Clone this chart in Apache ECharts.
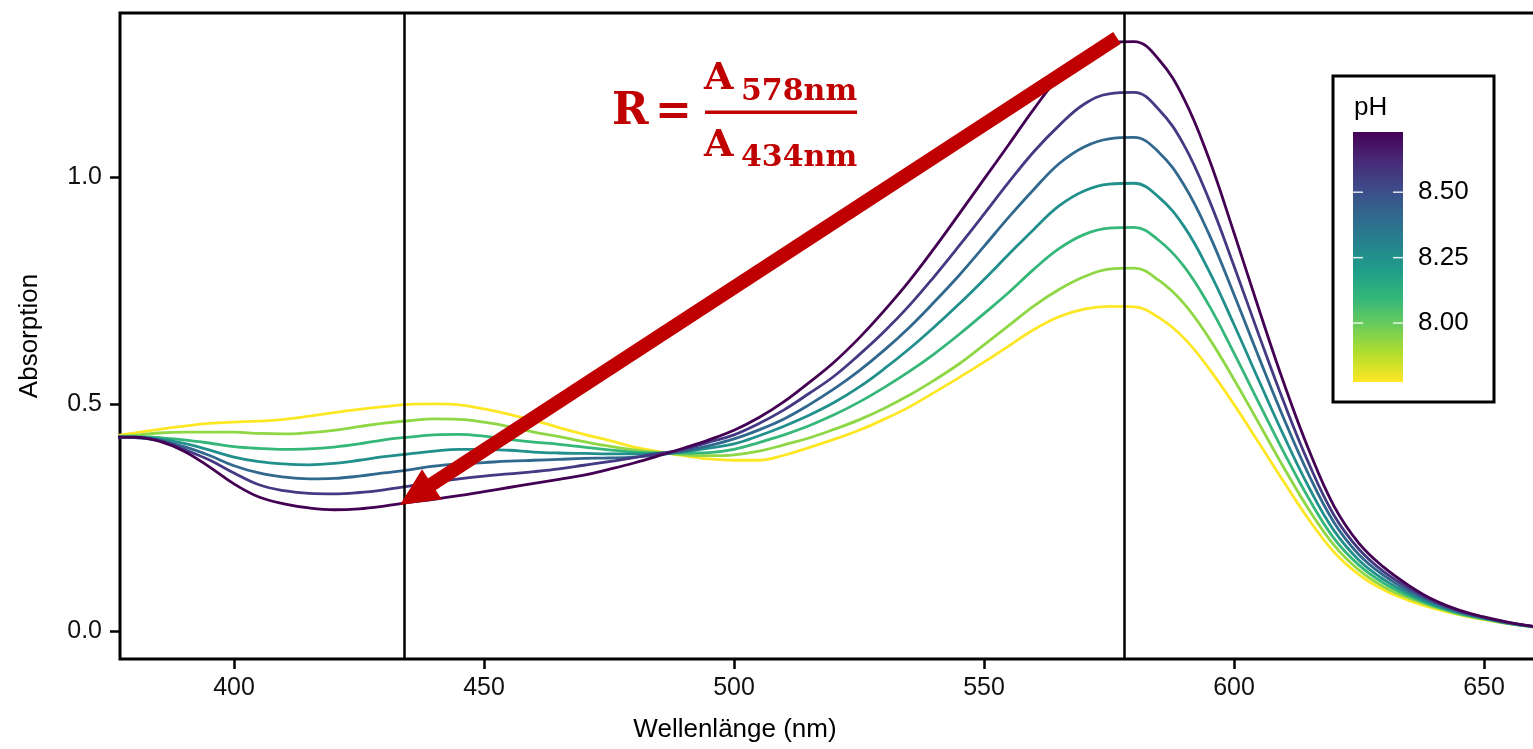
<!DOCTYPE html>
<html>
<head>
<meta charset="utf-8">
<script src="https://cdn.jsdelivr.net/npm/echarts@6/dist/echarts.min.js"></script>
<style>
html,body{margin:0;padding:0;background:#fff;}
#chart{width:1533px;height:749px;}
</style>
</head>
<body>
<div id="chart"></div>
<script>
// ---- data ----
const wavelengths = [375,380,385,390,395,400,405,410,415,420,
  425,430,435,440,445,450,455,460,465,470,
  475,480,485,490,495,500,505,510,515,520,
  525,530,535,540,545,550,555,560,565,570,
  575,580,585,590,595,600,605,610,615,
  620,625,630,635,640,645,650,655,660,665];

const pHValues = [8.73, 8.57, 8.41, 8.25, 8.09, 7.93, 7.77];

const absPH873 = [.427,.427,.418,.396,.362,.324,.295,.280,.271,.267,
  .269,.275,.283,.290,.298,.307,.316,.325,.334,.343,
  .356,.370,.386,.403,.421,.442,.470,.505,.547,.592,
  .645,.705,.770,.842,.918,.995,1.072,1.150,1.220,1.268,
  1.295,1.298,1.258,1.172,1.040,.877,.708,.545,.398,
  .275,.193,.140,.100,.068,.046,.031,.019,.010,.005];

const absPH857 = [.427,.426,.420,.400,.377,.348,.322,.309,.303,.302,
  .305,.311,.319,.328,.335,.341,.346,.351,.357,.365,
  .373,.382,.391,.400,.416,.432,.457,.487,.523,.561,
  .608,.659,.716,.780,.848,.918,.989,1.056,1.113,1.160,
  1.183,1.186,1.148,1.070,.950,.804,.651,.503,.368,
  .255,.180,.130,.094,.065,.044,.030,.018,.010,.005];

const absPH841 = [.427,.426,.420,.406,.387,.364,.348,.339,.335,.336,
  .341,.348,.355,.363,.368,.371,.374,.376,.378,.380,
  .381,.383,.388,.396,.408,.423,.443,.467,.498,.533,
  .573,.618,.668,.724,.783,.847,.912,.973,1.029,1.066,
  1.084,1.087,1.054,.982,.874,.741,.602,.467,.343,
  .239,.168,.122,.088,.062,.042,.029,.018,.010,.005];

const absPH825 = [.427,.427,.423,.413,.399,.383,.373,.368,.366,.369,
  .376,.384,.390,.396,.400,.400,.398,.394,.392,.391,
  .390,.390,.391,.395,.403,.412,.430,.451,.475,.503,
  .537,.577,.621,.669,.720,.774,.830,.885,.936,.969,
  .984,.986,.955,.891,.793,.675,.551,.429,.316,
  .221,.156,.113,.082,.058,.041,.028,.017,.010,.005];

const absPH809 = [.427,.428,.426,.421,.414,.406,.402,.400,.401,.405,
  .412,.421,.427,.432,.433,.429,.422,.416,.411,.405,
  .399,.394,.392,.392,.393,.400,.415,.432,.452,.476,
  .504,.536,.571,.610,.653,.699,.746,.797,.842,.873,
  .887,.889,.860,.803,.717,.612,.502,.393,.291,
  .204,.145,.105,.077,.055,.039,.027,.017,.009,.005];

const absPH793 = [.428,.431,.436,.438,.438,.438,.435,.434,.437,.442,
  .450,.458,.463,.467,.466,.460,.450,.438,.428,.417,
  .407,.399,.393,.388,.386,.388,.396,.410,.425,.444,
  .465,.490,.519,.552,.588,.630,.673,.716,.752,.780,
  .797,.799,.772,.721,.645,.554,.457,.359,.267,
  .189,.134,.097,.072,.053,.037,.026,.016,.009,.005];

const absPH777 = [.428,.436,.444,.451,.457,.460,.462,.466,.473,.481,
  .488,.494,.499,.500,.498,.489,.477,.464,.448,.433,
  .420,.405,.395,.386,.379,.376,.376,.387,.404,.422,
  .442,.466,.493,.525,.558,.592,.628,.664,.692,.709,
  .715,.714,.690,.645,.578,.499,.414,.328,.245,
  .174,.124,.090,.067,.050,.036,.025,.016,.009,.005];

const xTicks = [400, 450, 500, 550, 600, 650];
const yTicks = [0.0, 0.5, 1.0];
const markedWavelengths = [434, 578];
const legendTicks = [8.50, 8.25, 8.00];
const legendRange = [7.775, 8.73];
const arrowFrom = [576.6, 1.306];
const arrowTo = [433.2, 0.2775];

// ---- styling ----
const lineColors = ['#440154','#443A83','#31688E','#21908C','#35B779','#8FD744','#FDE725'];
const viridisStops = ['#440154','#482878','#3E4A89','#31688E','#26828E','#1F9E89','#35B779','#6DCD59','#B4DE2C','#FDE725'];
const curves = [absPH873, absPH857, absPH841, absPH825, absPH809, absPH793, absPH777];
const red = '#C00000';
const textFont = '"Liberation Sans", Arial, sans-serif';
const mathFont = '"DejaVu Serif", serif';

const chart = echarts.init(document.getElementById('chart'), null, {renderer: 'canvas'});

const series = [];
// draw yellow first, purple last
for (let i = curves.length - 1; i >= 0; i--) {
  series.push({
    name: 'pH ' + pHValues[i].toFixed(2),
    type: 'line',
    data: wavelengths.map((w, k) => [w, curves[i][k]]),
    showSymbol: false,
    smooth: 0.4,
    clip: true,
    silent: true,
    lineStyle: {color: lineColors[i], width: 2.8},
    itemStyle: {color: lineColors[i]},
    z: 2
  });
}
series.push({
  type: 'line', data: [], z: 5, silent: true,
  markLine: {
    silent: true, symbol: 'none', animation: false,
    label: {show: false},
    lineStyle: {color: '#000', width: 2.5, type: 'solid'},
    emphasis: {disabled: true},
    data: markedWavelengths.map(w => ({xAxis: w}))
  }
});
// red arrow annotation, placed through the axes' scales
series.push({
  type: 'custom', z: 6, silent: true, clip: false,
  data: [[arrowFrom[0], arrowFrom[1], arrowTo[0], arrowTo[1]]],
  renderItem: function (params, api) {
    const p0 = api.coord([api.value(0), api.value(1)]);
    const p1 = api.coord([api.value(2), api.value(3)]);
    const dx = p1[0] - p0[0], dy = p1[1] - p0[1];
    const len = Math.sqrt(dx * dx + dy * dy);
    const ux = dx / len, uy = dy / len, nx = -uy, ny = ux;
    const headLen = 38, headHalf = 18, shaftHalf = 7;
    const bx = p1[0] - ux * headLen, by = p1[1] - uy * headLen;
    return {
      type: 'group',
      children: [
        {type: 'polygon', shape: {points: [
          [p0[0] + nx * shaftHalf, p0[1] + ny * shaftHalf],
          [bx + ux * 2 + nx * shaftHalf, by + uy * 2 + ny * shaftHalf],
          [bx + ux * 2 - nx * shaftHalf, by + uy * 2 - ny * shaftHalf],
          [p0[0] - nx * shaftHalf, p0[1] - ny * shaftHalf]]}, style: {fill: red}},
        {type: 'polygon', shape: {points: [
          [p1[0], p1[1]],
          [bx + nx * headHalf, by + ny * headHalf],
          [bx - nx * headHalf, by - ny * headHalf]]}, style: {fill: red}}
      ]
    };
  }
});

// legend (colour bar) graphics
const barX = 1353, barY = 132, barW = 50, barH = 250;
const legendGraphics = [
  {type: 'rect', shape: {x: 1333, y: 76, width: 161, height: 326},
   style: {fill: '#fff', stroke: '#000', lineWidth: 3}, z: 100},
  {type: 'text', x: 1354, y: 108, style: {text: 'pH', font: '26px ' + textFont, fill: '#000', verticalAlign: 'middle'}, z: 101},
  {type: 'rect', shape: {x: barX, y: barY, width: barW, height: barH},
   style: {fill: {type: 'linear', x: 0, y: 0, x2: 0, y2: 1,
     colorStops: viridisStops.map((c, i) => ({offset: i / (viridisStops.length - 1), color: c}))}}, z: 101}
];
legendTicks.forEach(v => {
  const y = barY + (legendRange[1] - v) / (legendRange[1] - legendRange[0]) * barH;
  legendGraphics.push({type: 'line', shape: {x1: barX, y1: y, x2: barX + 10, y2: y}, style: {stroke: 'rgba(255,255,255,0.85)', lineWidth: 1.5}, z: 102});
  legendGraphics.push({type: 'line', shape: {x1: barX + barW - 10, y1: y, x2: barX + barW, y2: y}, style: {stroke: 'rgba(255,255,255,0.85)', lineWidth: 1.5}, z: 102});
  legendGraphics.push({type: 'text', x: 1418, y: y, style: {text: v.toFixed(2), font: '26px ' + textFont, fill: '#000', verticalAlign: 'middle'}, z: 102});
});

// formula annotation
const formula = [
  {type: 'text', x: 612, y: 113, style: {text: 'R', font: 'bold 44px ' + mathFont, fill: red, verticalAlign: 'middle'}},
  {type: 'text', x: 655, y: 114, style: {text: '=', font: 'bold 44px ' + mathFont, fill: red, verticalAlign: 'middle'}},
  {type: 'text', x: 704, y: 79, style: {text: 'A', font: 'bold 38px ' + mathFont, fill: red, verticalAlign: 'middle'}},
  {type: 'text', x: 741, y: 92, style: {text: '578nm', font: 'bold 30px ' + mathFont, fill: red, verticalAlign: 'middle'}},
  {type: 'rect', shape: {x: 705, y: 110.5, width: 152, height: 3.5}, style: {fill: red}},
  {type: 'text', x: 704, y: 146, style: {text: 'A', font: 'bold 38px ' + mathFont, fill: red, verticalAlign: 'middle'}},
  {type: 'text', x: 741, y: 158, style: {text: '434nm', font: 'bold 30px ' + mathFont, fill: red, verticalAlign: 'middle'}}
];

const titles = [
  {type: 'text', x: 735, y: 730, style: {text: 'Wellenlänge (nm)', font: '26px ' + textFont, fill: '#000', align: 'center', verticalAlign: 'middle'}},
  {type: 'text', x: 30, y: 336, rotation: Math.PI / 2, style: {text: 'Absorption', font: '26px ' + textFont, fill: '#000', align: 'center', verticalAlign: 'middle'}}
];

chart.setOption({
  animation: false,
  backgroundColor: '#fff',
  grid: {left: 120, top: 13, width: 1420, height: 646, show: true, borderColor: '#000', borderWidth: 3,
    backgroundColor: 'transparent', outerBoundsMode: 'none', containLabel: false},
  xAxis: {
    type: 'value', min: 377.2, max: 661.2,
    axisLine: {show: false, onZero: false},
    splitLine: {show: false},
    axisTick: {show: true, length: 10, lineStyle: {color: '#000', width: 2.5}, customValues: xTicks},
    axisLabel: {customValues: xTicks, margin: 17, color: '#111', fontSize: 25, fontFamily: textFont}
  },
  yAxis: {
    type: 'value', min: -0.0617, max: 1.361,
    axisLine: {show: false, onZero: false},
    splitLine: {show: false},
    axisTick: {show: true, length: 10, lineStyle: {color: '#000', width: 2.5}, customValues: yTicks},
    axisLabel: {customValues: yTicks, margin: 18, color: '#111', fontSize: 25, fontFamily: textFont,
      formatter: v => Number(v).toFixed(1)}
  },
  series: series,
  graphic: [].concat(titles, formula, legendGraphics)
});
</script>
</body>
</html>
